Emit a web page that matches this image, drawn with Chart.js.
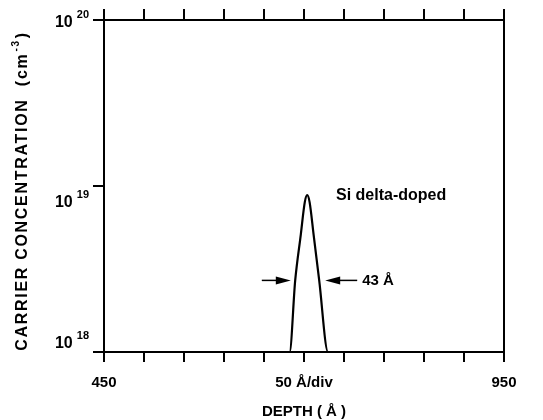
<!DOCTYPE html>
<html>
<head>
<meta charset="utf-8">
<script src="https://cdn.jsdelivr.net/npm/chart.js@4.4.0/dist/chart.umd.min.js"></script>
<style>
  html, body { margin: 0; padding: 0; background: #fff; }
  #wrap { width: 543px; height: 420px; }
</style>
</head>
<body>
<div id="wrap"><canvas id="profile"></canvas></div>
<script>
// Values
var depth = [450, 682, 689, 696, 701, 704, 707, 712, 719, 730, 950]
var carrier = [1e18, 1e18, 2.7e18, 5.1e18, 8.0e18, 8.8e18, 8.0e18, 5.1e18, 2.7e18, 1e18, 1e18]
var depthTicks = [450, 700, 950]
var depthTickLabels = ['450', '50 Å/div', '950']
var concTicks = [1e18, 1e19, 1e20]
var fwhmEdges = [683.5, 726.5]
var fwhmLevel = 2.7e18
var fwhmText = '43 Å'
var peakText = 'Si delta-doped'

var FONT = '"Liberation Sans", Arial, sans-serif'
var points = depth.map(function (d, i) { return { x: d, y: carrier[i] } })

// draws 10^n labels, y title, arrows and notes
var extras = {
    id: 'extras',
    afterDraw: function (chart) {
        var ctx = chart.ctx
        var x = chart.scales.x, y = chart.scales.y
        var shift = [-8, 17, 3]
        ctx.save()
        ctx.fillStyle = '#000'
        ctx.strokeStyle = '#000'
        ctx.textBaseline = 'middle'

        // tick labels on the log axis
        concTicks.forEach(function (v, i) {
            var py = y.getPixelForValue(v) + shift[i]
            var exp = String(Math.round(Math.log10(v)))
            ctx.textAlign = 'right'
            ctx.font = 'bold 11px ' + FONT
            var ew = ctx.measureText(exp).width
            ctx.fillText(exp, x.left - 15, py - 8)
            ctx.font = 'bold 16px ' + FONT
            ctx.fillText('10', x.left - 19 - ew, py)
        })

        // y title, rotated
        ctx.save()
        ctx.translate(23, 191)
        ctx.rotate(-Math.PI / 2)
        ctx.letterSpacing = '1.7px'
        ctx.textAlign = 'left'
        ctx.font = 'bold 16px ' + FONT
        var main = 'CARRIER CONCENTRATION  (cm'
        var mw = ctx.measureText(main).width
        ctx.font = 'bold 10px ' + FONT
        var sw = ctx.measureText('-3').width
        ctx.font = 'bold 16px ' + FONT
        var tw = ctx.measureText(')').width
        var x0 = -(mw + sw + tw + 2) / 2
        ctx.fillText(main, x0, 0)
        ctx.font = 'bold 10px ' + FONT
        ctx.fillText('-3', x0 + mw + 1, -7)
        ctx.font = 'bold 16px ' + FONT
        ctx.fillText(')', x0 + mw + sw + 2, 0)
        ctx.restore()

        // width arrows
        var py = y.getPixelForValue(fwhmLevel)
        var lx = x.getPixelForValue(fwhmEdges[0])
        var rx = x.getPixelForValue(fwhmEdges[1])
        function arrow(tip, tail) {
            var dir = tip > tail ? 1 : -1
            ctx.lineWidth = 1.5
            ctx.beginPath()
            ctx.moveTo(tail, py)
            ctx.lineTo(tip - dir * 12, py)
            ctx.stroke()
            ctx.beginPath()
            ctx.moveTo(tip, py)
            ctx.lineTo(tip - dir * 15, py - 4)
            ctx.lineTo(tip - dir * 15, py + 4)
            ctx.closePath()
            ctx.fill()
        }
        arrow(lx, lx - 29)
        arrow(rx, rx + 32)

        ctx.textAlign = 'left'
        ctx.font = 'bold 15px ' + FONT
        ctx.fillText(fwhmText, rx + 37, py)

        ctx.font = 'bold 16px ' + FONT
        ctx.fillText(peakText, x.getPixelForValue(740), y.getPixelForValue(8.8e18))
        ctx.restore()
    }
}

var ctx = document.getElementById('profile').getContext('2d')
var myChart = new Chart(ctx, {
    type: 'line',
    data: {
        datasets: [{
            data: points,
            borderColor: '#000',
            borderWidth: 2.2,
            pointRadius: 0,
            cubicInterpolationMode: 'monotone',
            fill: false
        }]
    },
    options: {
        responsive: true,
        maintainAspectRatio: false,
        animation: false,
        layout: { padding: 0 },
        plugins: {
            legend: { display: false },
            tooltip: { enabled: false }
        },
        scales: {
            x: {
                type: 'linear',
                position: 'bottom',
                min: 450,
                max: 950,
                afterFit: function (s) { s.height = 68 },
                ticks: {
                    stepSize: 50,
                    autoSkip: false,
                    maxRotation: 0,
                    padding: 12,
                    color: '#000',
                    font: { family: FONT, size: 15, weight: 'bold' },
                    callback: function (v) {
                        var i = depthTicks.indexOf(v)
                        return i >= 0 ? depthTickLabels[i] : ''
                    }
                },
                grid: { drawOnChartArea: false, drawTicks: true, tickLength: 10, color: '#000', lineWidth: 2 },
                border: { display: true, color: '#000', width: 2 },
                title: {
                    display: true,
                    text: 'DEPTH ( Å )',
                    color: '#000',
                    font: { family: FONT, size: 15, weight: 'bold' },
                    padding: { top: 0, bottom: -1 }
                }
            },
            xTop: {
                type: 'linear',
                position: 'top',
                min: 450,
                max: 950,
                afterFit: function (s) { s.height = 20 },
                ticks: { stepSize: 50, display: false },
                grid: { drawOnChartArea: false, drawTicks: true, tickLength: 11, color: '#000', lineWidth: 2 },
                border: { display: true, color: '#000', width: 2 }
            },
            y: {
                type: 'logarithmic',
                position: 'left',
                min: 1e18,
                max: 1e20,
                afterFit: function (s) { s.width = 104 },
                afterBuildTicks: function (s) {
                    s.ticks = concTicks.map(function (v) { return { value: v, major: true } })
                },
                ticks: { display: false },
                grid: { drawOnChartArea: false, drawTicks: true, tickLength: 11, color: '#000', lineWidth: 2 },
                border: { display: true, color: '#000', width: 2 }
            },
            yRight: {
                type: 'linear',
                position: 'right',
                min: 0,
                max: 1,
                afterFit: function (s) { s.width = 39 },
                ticks: { display: false },
                grid: { display: false },
                border: { display: true, color: '#000', width: 2 }
            }
        }
    },
    plugins: [extras]
})
</script>
</body>
</html>
